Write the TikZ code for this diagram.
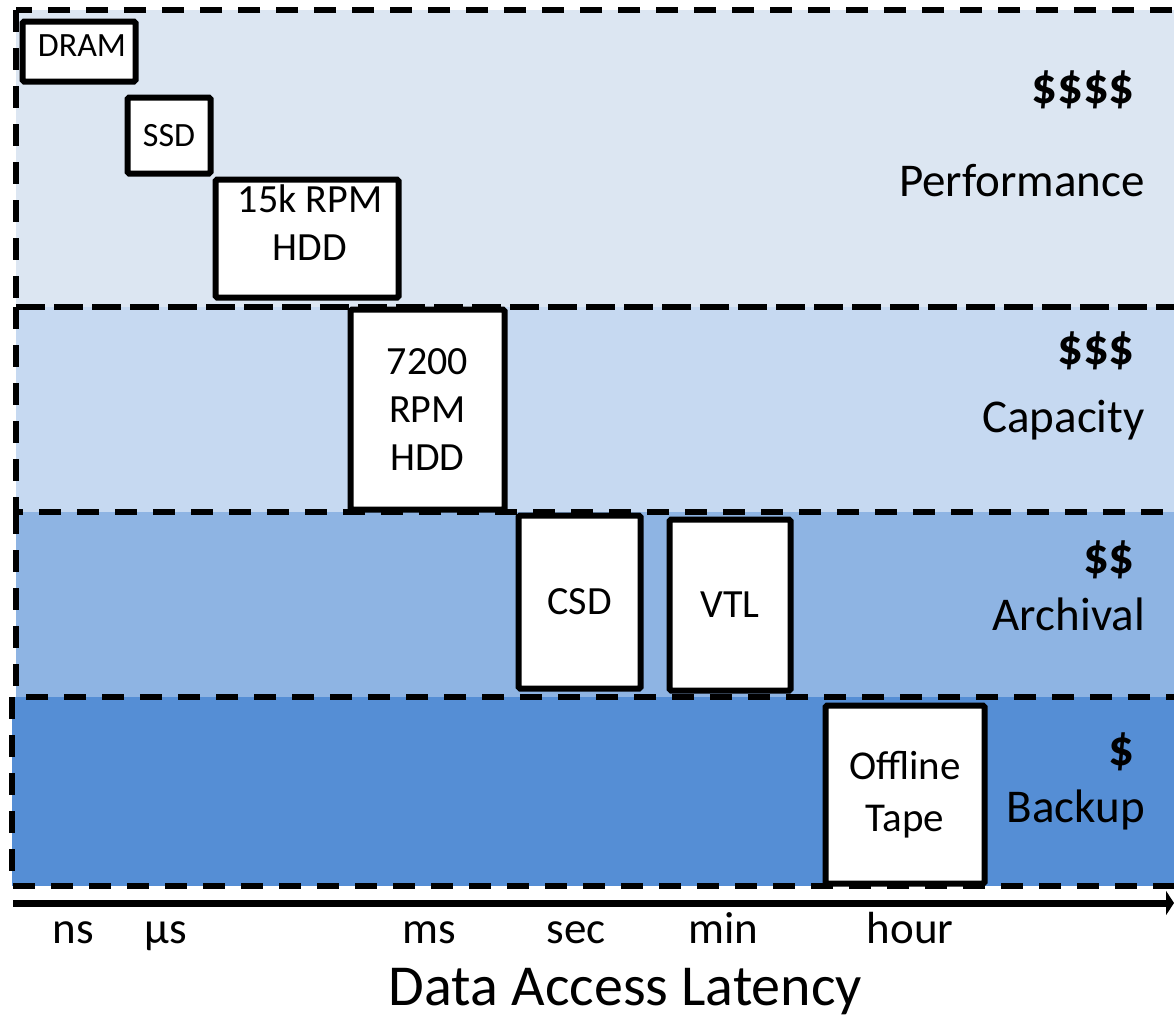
\documentclass[tikz,border=0pt]{standalone}
\usepackage{fontspec}
\setmainfont{Carlito}
\usetikzlibrary{arrows.meta}
\definecolor{perfc}{HTML}{DCE6F2}
\definecolor{capc}{HTML}{C6D9F1}
\definecolor{archc}{HTML}{8EB4E3}
\definecolor{backc}{HTML}{558ED5}
\tikzset{
  bandline/.style={draw=black, line width=5.5pt, dash pattern=on 22pt off 16pt},
  storebox/.style={draw=black, fill=white, line width=6pt, rounded corners=1.5pt, inner sep=0pt},
  boxfont/.style={font=\fontsize{40}{48}\selectfont, align=center},
  smallfont/.style={font=\fontsize{34}{40}\selectfont},
  dollar/.style={font=\fontsize{51}{60}\selectfont\bfseries, anchor=east, inner sep=0pt},
  tiername/.style={font=\fontsize{47}{56}\selectfont, anchor=base east, inner sep=0pt},
  ticklabel/.style={font=\fontsize{45}{54}\selectfont, anchor=base, inner sep=0pt},
}
\begin{document}
\begin{tikzpicture}[x=1pt,y=-1pt]
\useasboundingbox (0,0) rectangle (1174,1020);
% bands (fills)
\fill[perfc] (16,10) rectangle (1190,307);
\fill[capc] (16,307) rectangle (1190,512);
\fill[archc] (16,512) rectangle (1190,697);
\fill[backc] (12,697) rectangle (1190,886);
% band outlines
\draw[bandline] (16,10) rectangle (1190,307);
\draw[bandline] (16,307) rectangle (1190,512);
\draw[bandline] (16,512) -- (16,697);
\draw[bandline] (12,697) rectangle (1190,886);
% storage boxes
\node[storebox, minimum width=113pt, minimum height=60pt] (dram) at (79,51.5) {};
\node[smallfont, inner sep=0pt] (dramt) at (82,46) {DRAM};
\node[storebox, smallfont, minimum width=83pt, minimum height=76pt] (ssd) at (169,135.5) {SSD};
\node[storebox, minimum width=183pt, minimum height=118pt] (hdd15) at (307,238.5) {};
\node[boxfont, inner sep=0pt] (hdd15t) at (310,223) {15k RPM\\HDD};
\node[storebox, boxfont, minimum width=154pt, minimum height=200pt] (hdd72) at (427.5,409.5) {7200\\RPM\\HDD};
\node[storebox, boxfont, minimum width=122pt, minimum height=173pt] (csd) at (579.5,602) {CSD};
\node[storebox, boxfont, minimum width=121pt, minimum height=171pt] (vtl) at (730,605) {VTL};
\node[storebox, boxfont, font=\fontsize{41}{52}\selectfont, minimum width=159pt, minimum height=178pt] (tape) at (905,794.5) {Offline\\Tape};
% tier labels
\node[dollar] (d4) at (1135,90) {\$\$\$\$};
\node[tiername] (perf) at (1145,196) {Performance};
\node[dollar] (d3) at (1135,351) {\$\$\$};
\node[tiername] (cap) at (1145,432) {Capacity};
\node[dollar] (d2) at (1135,560) {\$\$};
\node[tiername] (arch) at (1145,630) {Archival};
\node[dollar] (d1) at (1135,752) {\$};
\node[tiername] (back) at (1145,822) {Backup};
% axis
\coordinate (axstart) at (13,903);
\coordinate (axend) at (1174,903);
\draw[line width=7pt, -{Triangle[length=8pt,width=24pt]}] (axstart) -- (axend);
\node[ticklabel] (ns) at (73,943) {ns};
\node[ticklabel] (us) at (166,943) {µs};
\node[ticklabel] (ms) at (429,943) {ms};
\node[ticklabel] (sec) at (576,943) {sec};
\node[ticklabel] (min) at (723,943) {min};
\node[ticklabel] (hour) at (910,943) {hour};
\node[font=\fontsize{58}{70}\selectfont, anchor=base, inner sep=0pt] (title) at (625.5,1005) {Data Access Latency};
\end{tikzpicture}
\end{document}
